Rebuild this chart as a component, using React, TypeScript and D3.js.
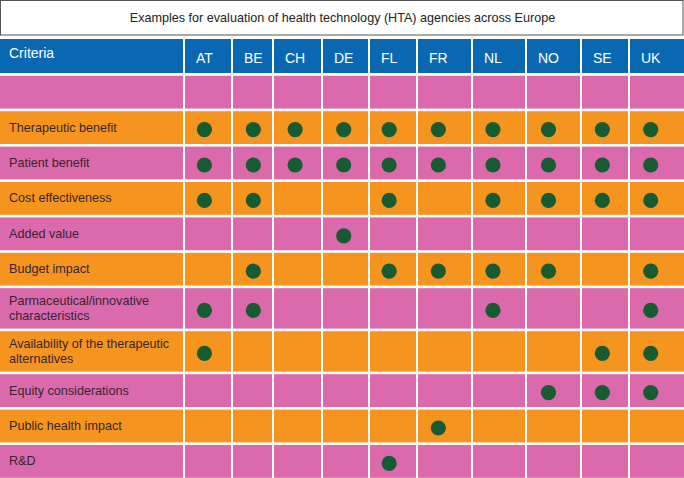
import React from "react";
import * as d3 from "d3";

const title = "Examples for evaluation of health technology (HTA) agencies across Europe";
const headerLabel = "Criteria";
const countries = ["AT", "BE", "CH", "DE", "FL", "FR", "NL", "NO", "SE", "UK"];
const criteria: string[][] = [
  [""],
  ["Therapeutic benefit"],
  ["Patient benefit"],
  ["Cost effectiveness"],
  ["Added value"],
  ["Budget impact"],
  ["Parmaceutical/innovative", "characteristics"],
  ["Availability of the therapeutic", "alternatives"],
  ["Equity considerations"],
  ["Public health impact"],
  ["R&D"],
];
const marks: string[][] = [
  [],
  ["AT", "BE", "CH", "DE", "FL", "FR", "NL", "NO", "SE", "UK"],
  ["AT", "BE", "CH", "DE", "FL", "FR", "NL", "NO", "SE", "UK"],
  ["AT", "BE", "FL", "NL", "NO", "SE", "UK"],
  ["DE"],
  ["BE", "FL", "FR", "NL", "NO", "UK"],
  ["AT", "BE", "NL", "UK"],
  ["AT", "SE", "UK"],
  ["NO", "SE", "UK"],
  ["FR"],
  ["FL"],
];

// layout
const W = 684;
const colWidths = [184, 48, 41, 49, 47, 48, 55, 54, 55, 48, 55];
const singleH = 35.4;
const doubleH = 43;
const BLUE = "#0a68b3";
const PINK = "#da6aab";
const ORANGE = "#f5951f";
const GREEN = "#175b33";
const TEXT = "#36252f";

const measure = (() => {
  let ctx: CanvasRenderingContext2D | null = null;
  return (s: string, font: string) => {
    if (!ctx) ctx = document.createElement("canvas").getContext("2d");
    if (!ctx) return s.length * 8;
    ctx.font = font;
    return ctx.measureText(s).width;
  };
})();

export default function App() {
  const FONT = "'Liberation Sans', Arial, Helvetica, sans-serif";
  const colLines = [0, ...d3.cumsum(colWidths)];
  const rowHeights = criteria.map((c) => (c.length > 1 ? doubleH : singleH));
  const bodyTop = 74.5;
  const rowLines = [bodyTop, ...Array.from(d3.cumsum(rowHeights)).map((v) => bodyTop + v)];
  const gx = 1; // half column gap
  const gy = 1.3; // half row gap
  const headerTop = 39;
  const headerBottom = 73;

  const headerFont = `14px ${FONT}`;
  const textX = (i: number) => colLines[i + 1] + 12;
  const dotX = (i: number) => textX(i) + measure(countries[i], headerFont) / 2;

  return (
    <svg width={W} height={478} style={{ display: "block", position: "absolute", left: 0, top: 0 }} fontFamily={FONT}>
      <rect x={0} y={0} width={W} height={478} fill="#ffffff" />
      {/* title box */}
      <rect x={0.5} y={0.5} width={W - 1.5} height={34.5} fill="#fff" stroke="#555" strokeWidth={1} />
      <text x={W / 2 + 0.5} y={18} textAnchor="middle" dominantBaseline="central" fontSize={12.6} fill="#222">
        {title}
      </text>
      {/* header */}
      {colWidths.map((w, i) => {
        const x0 = i === 0 ? 0 : colLines[i] + gx;
        const x1 = i === colWidths.length - 1 ? W : colLines[i + 1] - gx;
        return <rect key={"h" + i} x={x0} y={headerTop} width={x1 - x0} height={headerBottom - headerTop} fill={BLUE} />;
      })}
      <text x={9} y={53} dominantBaseline="central" fontSize={14} fill="#fff">
        {headerLabel}
      </text>
      {countries.map((c, i) => (
        <text key={c} x={textX(i)} y={58} dominantBaseline="central" fontSize={14} fill="#fff">
          {c}
        </text>
      ))}
      {/* body */}
      {criteria.map((lines, r) => {
        const y0 = rowLines[r] + gy;
        const y1 = rowLines[r + 1] - gy;
        const fill = r % 2 === 0 ? PINK : ORANGE;
        const cy = (y0 + y1) / 2;
        return (
          <g key={"r" + r}>
            {colWidths.map((w, i) => {
              const x0 = i === 0 ? 0 : colLines[i] + gx;
              const x1 = i === colWidths.length - 1 ? W : colLines[i + 1] - gx;
              return <rect key={i} x={x0} y={y0} width={x1 - x0} height={y1 - y0} fill={fill} />;
            })}
            {lines.map((t, k) => (
              <text
                key={k}
                x={9}
                y={cy + (k - (lines.length - 1) / 2) * 15.7}
                dominantBaseline="central"
                fontSize={12.6}
                fill={TEXT}
              >
                {t}
              </text>
            ))}
            {marks[r].map((c) => {
              const i = countries.indexOf(c);
              return <circle key={c} cx={dotX(i)} cy={cy + 2} r={7.6} fill={GREEN} />;
            })}
          </g>
        );
      })}
    </svg>
  );
}
